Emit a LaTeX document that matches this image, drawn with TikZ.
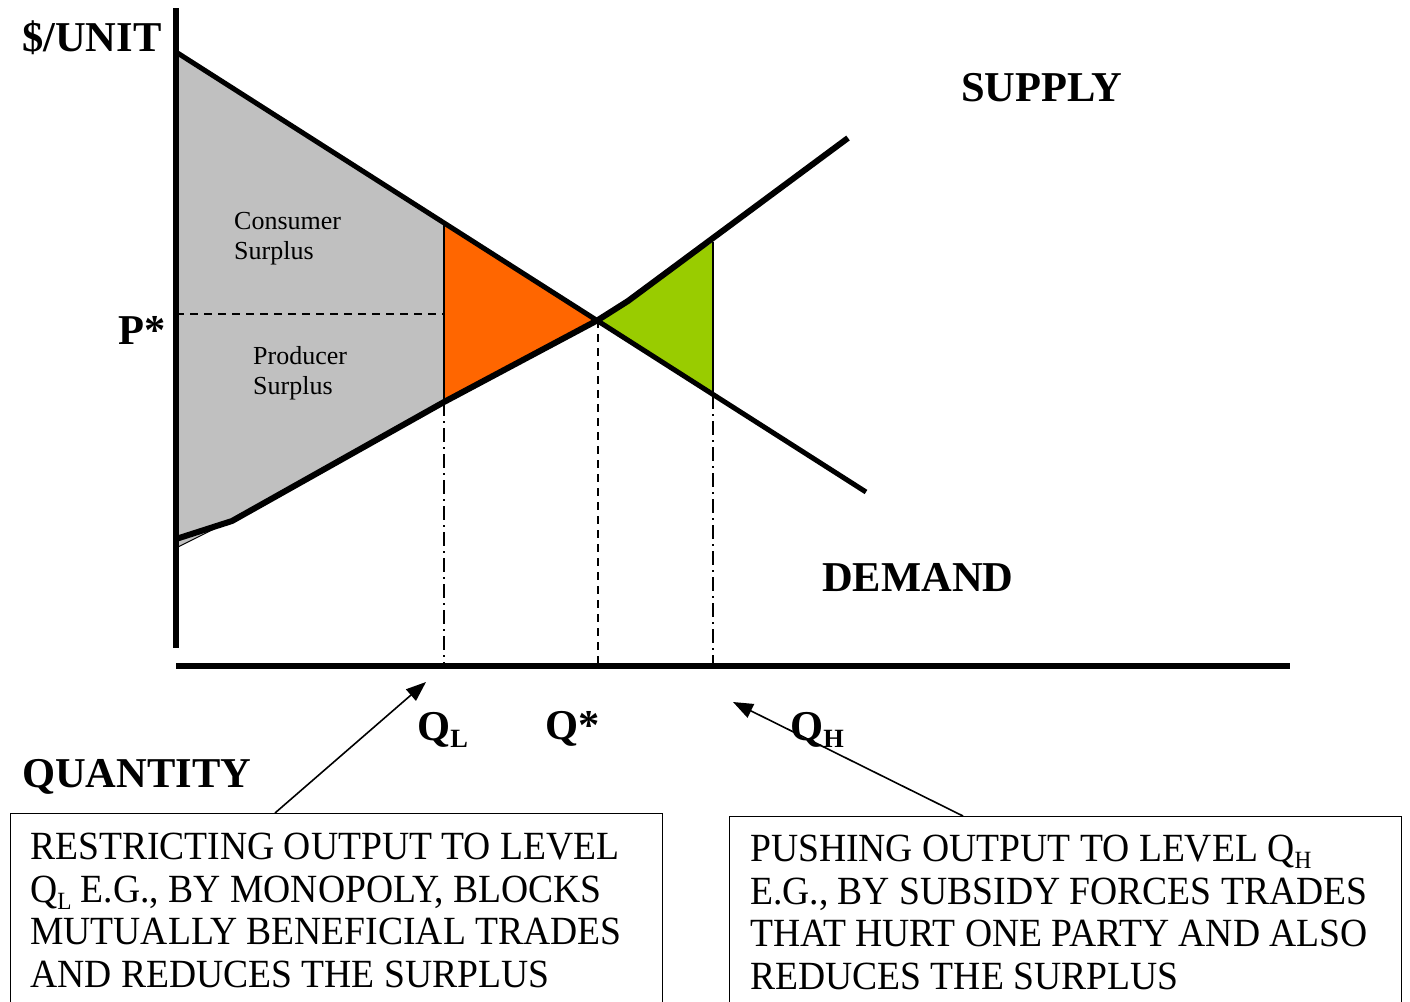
\documentclass[tikz,border=0pt]{standalone}
\usepackage{fontspec}
\setmainfont{Liberation Serif}
\newfontfamily\boxfont[FakeStretch=0.94]{Liberation Serif}
\usetikzlibrary{arrows.meta}
\definecolor{csgray}{HTML}{C0C0C0}
\definecolor{dworange}{HTML}{FF6600}
\definecolor{dwgreen}{HTML}{99CC00}
\tikzset{
  axisline/.style={line width=5.5pt},
  curve/.style={line width=5pt, line join=round},
  edge/.style={line width=1.3pt},
  pdash/.style={line width=1.6pt, dash pattern=on 8pt off 6pt},
  ddash/.style={line width=1.3pt, dash pattern=on 14pt off 5pt on 2pt off 5pt},
  biglabel/.style={inner sep=0pt, anchor=base west, font=\fontsize{42.5}{42.5}\selectfont\bfseries},
  smalllabel/.style={inner sep=0pt, anchor=base west, font=\fontsize{26}{30}\selectfont},
  notebox/.style={draw, line width=1.3pt, anchor=north west, inner sep=0pt},
  notetext/.style={inner sep=0pt, anchor=north west, align=left, font=\boxfont\fontsize{40}{42.5}\selectfont},
  callout/.style={line width=1.6pt, -{Triangle[length=20pt,width=15pt]}}
}
\newcommand{\subL}[1]{\raisebox{-0.18em}{\fontsize{0.62em}{0.62em}\selectfont #1}}
\begin{document}
\begin{tikzpicture}[x=1pt,y=-1pt]
\useasboundingbox (0,0) rectangle (1410,1001);
% key points of the curves
\coordinate (d0) at (176,52);
\coordinate (d1) at (866,492);
\coordinate (ql) at (444,222);
\coordinate (qlS) at (444,402);
\coordinate (eq) at (598,320);
\coordinate (qh) at (713,242);
\coordinate (qhD) at (713,395);
\coordinate (s0) at (176,539);
\coordinate (s1) at (232,521);
\coordinate (s2) at (628,301);
\coordinate (s3) at (848,138);
% surplus regions
\fill[csgray] (d0) -- (ql) -- (qlS) -- (s1) -- (s0) -- cycle;
\fill[csgray] (176,548) -- (s0) -- (210,530) -- cycle;
\draw[line width=1pt] (176,548) -- (214,529);
\fill[dworange] (ql) -- (eq) -- (qlS) -- cycle;
\fill[dwgreen] (eq) -- (s2) -- (qh) -- (qhD) -- cycle;
\draw[edge] (ql) -- (qlS);
\draw[edge] (qh) -- (qhD);
% guide lines
\draw[pdash] (176,314) -- (444,314);
\draw[pdash] (eq) -- (598,666);
\draw[ddash] (qlS) -- (444,666);
\draw[ddash] (qhD) -- (713,666);
% demand and supply
\draw[curve] (d0) -- (d1);
\draw[curve, line width=6pt] (s0) -- (s1) -- (qlS) -- (eq) -- (s2) -- (s3);
% axes
\draw[axisline] (176,8) -- (176,648);
\draw[axisline, line width=6pt] (176,666) -- (1290,666);
% labels
\node[biglabel] (yl) at (22,51) {\$/UNIT};
\node[biglabel] (sup) at (961,101) {SUPPLY};
\node[biglabel] (dem) at (822,591) {DEMAND};
\node[biglabel] (ps) at (118,344) {P*};
\node[biglabel] (xl) at (22,787) {QUANTITY};
\node[biglabel] (qlab) at (417,740) {Q\subL{L}};
\node[biglabel] (qsl) at (545,739) {Q*};
\node[biglabel] (qhl) at (790,740) {Q\subL{H}};
\node[smalllabel, align=left, anchor=north west] (cs) at (234,212) {Consumer\\[0pt]Surplus};
\node[smalllabel, align=left, anchor=north west] (prs) at (253,346) {Producer\\[0pt]Surplus};
% notes
\node[notebox, minimum width=652pt, minimum height=210pt] (lbox) at (10,813) {};
\node[notetext] (ltext) at (30,833) {RESTRICTING OUTPUT TO LEVEL\\Q\subL{L} E.G., BY MONOPOLY, BLOCKS\\MUTUALLY BENEFICIAL TRADES\\AND REDUCES THE SURPLUS};
\node[notebox, minimum width=672pt, minimum height=210pt] (rbox) at (729,816) {};
\node[notetext] (rtext) at (750,835) {PUSHING OUTPUT TO LEVEL Q\subL{H}\\E.G., BY SUBSIDY FORCES TRADES\\THAT HURT ONE PARTY AND ALSO\\REDUCES THE SURPLUS};
\coordinate (la) at (275,813);
\coordinate (lt) at (426,682);
\coordinate (ra) at (963,816);
\coordinate (rt) at (733,702);
\draw[callout] (la) -- (lt);
\draw[callout] (ra) -- (rt);
\end{tikzpicture}
\end{document}
